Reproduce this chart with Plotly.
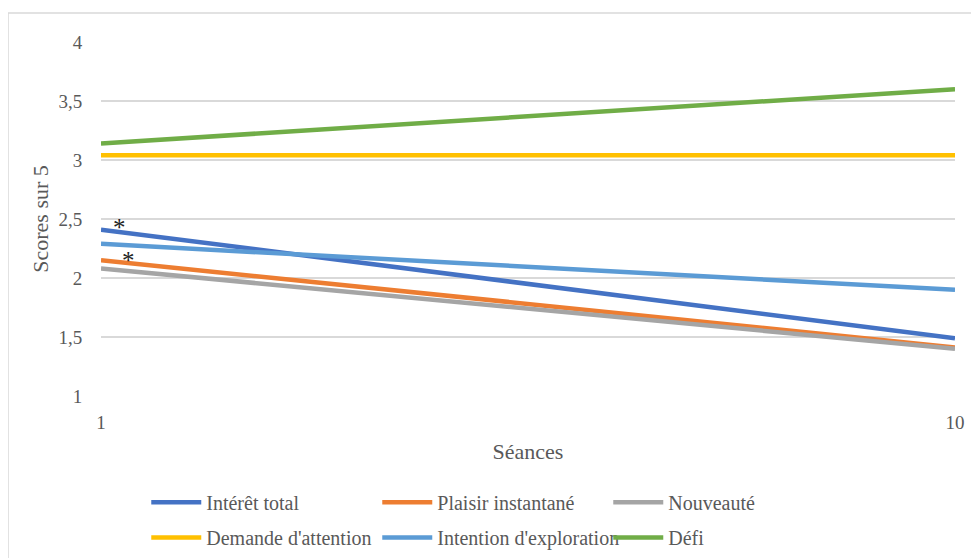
import plotly.graph_objects as go

seances = [1, 10]
series_names = ["Intérêt total", "Plaisir instantané", "Nouveauté",
                "Demande d'attention", "Intention d'exploration", "Défi"]
interet_total = [2.41, 1.49]
plaisir_instantane = [2.15, 1.41]
nouveaute = [2.08, 1.40]
demande_attention = [3.04, 3.04]
intention_exploration = [2.29, 1.90]
defi = [3.14, 3.60]
values = [interet_total, plaisir_instantane, nouveaute,
          demande_attention, intention_exploration, defi]
colors = ["#4472C4", "#ED7D31", "#A5A5A5", "#FFC000", "#5B9BD5", "#70AD47"]

y_ticks = [1, 1.5, 2, 2.5, 3, 3.5, 4]
x_ticks = [1, 10]

# significance markers (x, y) near the start of lines
star_x = [1.19, 1.295]
star_y = [2.43, 2.15]

FONT = "Liberation Serif"
GREY = "#595959"

fig = go.Figure()
for i, (name, vals, col) in enumerate(zip(series_names, values, colors)):
    fig.add_trace(go.Scatter(
        x=seances, y=vals, mode="lines", name=name,
        line=dict(color=col, width=4.5),
        legend="legend" if i < 3 else "legend2",
    ))

for sx, sy in zip(star_x, star_y):
    fig.add_annotation(x=sx, y=sy, text="*", showarrow=False,
                       font=dict(family=FONT, size=25, color="#222222"),
                       xanchor="center", yanchor="middle")

fig.add_shape(type="rect", xref="paper", yref="paper",
              x0=-0.1089, y0=-0.48, x1=1.05, y1=1.082,
              line=dict(color="#d9d9d9", width=1.5), layer="below")

legend_common = dict(orientation="h", xanchor="left", yanchor="middle",
                     font=dict(family=FONT, size=20, color=GREY),
                     bgcolor="rgba(0,0,0,0)", itemwidth=50,
                     entrywidth=166, entrywidthmode="pixels",
                     itemclick=False, itemdoubleclick=False)

fig.update_layout(
    width=971, height=550,
    margin=dict(l=93, r=24, t=34, b=162, autoexpand=False),
    paper_bgcolor="white", plot_bgcolor="white",
    separators=", ",
    font=dict(family=FONT, color=GREY, size=19),
    xaxis=dict(range=[1, 10], tickvals=x_ticks, ticktext=[str(v) for v in x_ticks],
               showgrid=False, zeroline=False, showline=False,
               ticks="outside", ticklen=9, tickcolor="rgba(0,0,0,0)",
               tickfont=dict(family=FONT, size=19, color=GREY),
               title=dict(text="Séances", font=dict(family=FONT, size=22, color=GREY),
                          standoff=11)),
    yaxis=dict(range=[1, 4], tickvals=y_ticks,
               showgrid=True, gridcolor="#d9d9d9", gridwidth=1.5,
               zeroline=False, showline=False,
               ticks="outside", ticklen=14, tickcolor="rgba(0,0,0,0)",
               tickfont=dict(family=FONT, size=19, color=GREY),
               title=dict(text="Scores sur 5", font=dict(family=FONT, size=22, color=GREY),
                          standoff=3)),
    legend=dict(x=0.053, y=-0.30, **legend_common),
    legend2=dict(x=0.053, y=-0.40, **legend_common),
)

fig.write_html("out.html")
